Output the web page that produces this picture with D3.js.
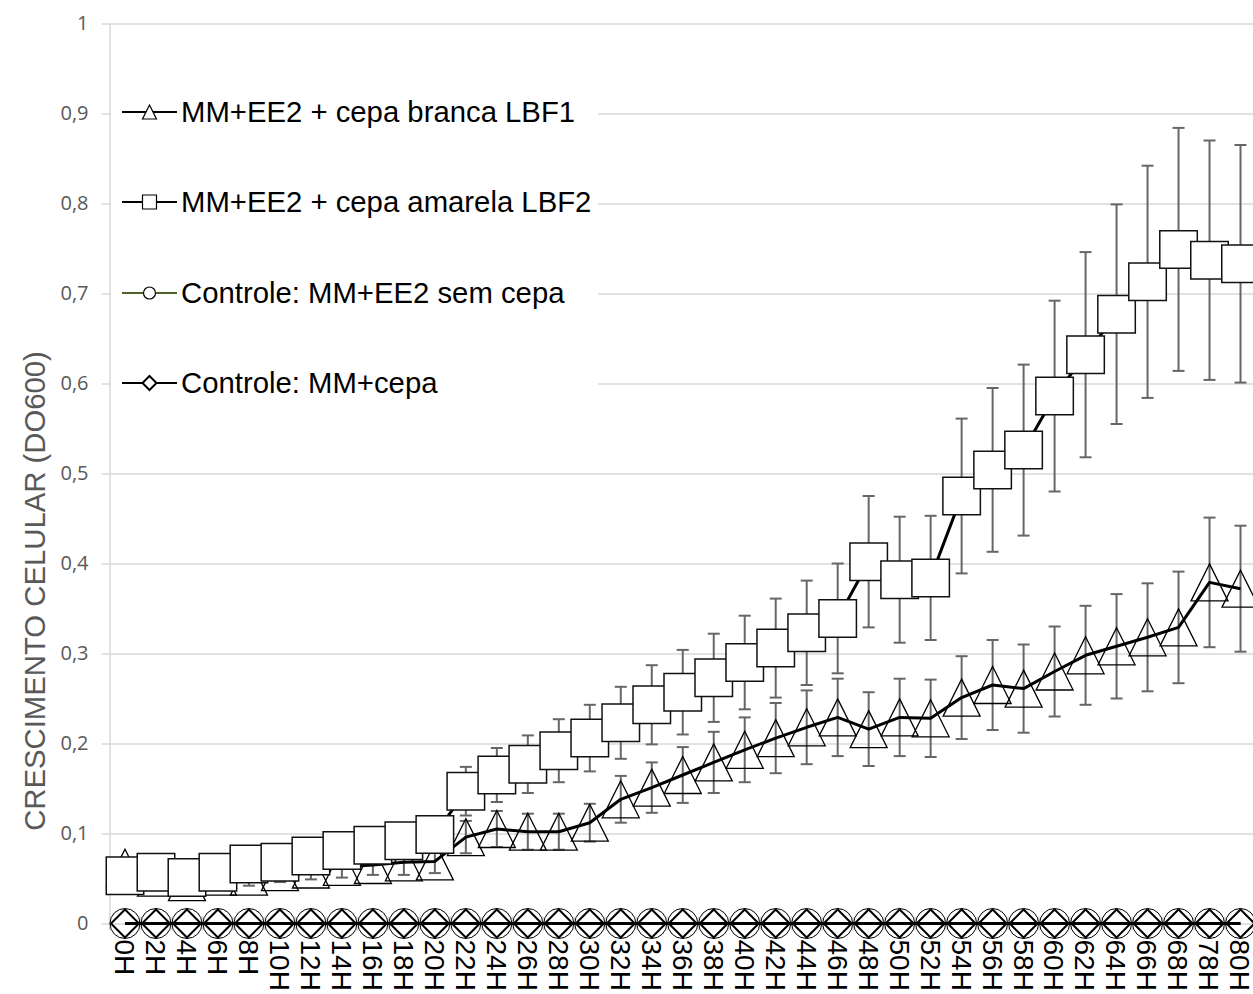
<!DOCTYPE html>
<html>
<head>
<meta charset="utf-8">
<script src="https://cdnjs.cloudflare.com/ajax/libs/d3/7.8.5/d3.min.js"></script>
<style>
  body { margin: 0; background: #fff; }
  svg { display: block; font-family: "Liberation Sans", Arial, sans-serif; }
</style>
</head>
<body>
<div id="chart"></div>
<script>
// categories (hours)
var hours = ["0H","2H","4H","6H","8H","10H","12H","14H","16H","18H","20H","22H","24H","26H","28H","30H",
             "32H","34H","36H","38H","40H","42H","44H","46H","48H","50H","52H","54H","56H","58H","60H",
             "62H","64H","66H","68H","78H","80H"];

// MM+EE2 + cepa branca LBF1 (triangles)
var branca    = [0.062,0.051,0.046,0.052,0.052,0.057,0.060,0.063,0.065,0.068,0.069,0.096,0.105,0.102,0.102,0.112,
                 0.138,0.151,0.165,0.179,0.193,0.206,0.218,0.229,0.216,0.229,0.228,0.251,0.265,0.261,0.280,
                 0.298,0.308,0.318,0.329,0.379,0.372];
var brancaErr = [0.004,0.004,0.004,0.004,0.010,0.011,0.011,0.012,0.011,0.014,0.013,0.018,0.020,0.020,0.020,0.021,
                 0.026,0.028,0.031,0.034,0.036,0.039,0.041,0.043,0.041,0.043,0.043,0.046,0.050,0.049,0.050,
                 0.055,0.058,0.060,0.062,0.072,0.070];

// MM+EE2 + cepa amarela LBF2 (squares)
var amarela    = [0.053,0.057,0.051,0.057,0.066,0.068,0.075,0.081,0.087,0.092,0.099,0.147,0.165,0.177,0.192,0.206,
                  0.223,0.243,0.257,0.273,0.290,0.306,0.323,0.339,0.402,0.382,0.384,0.475,0.504,0.526,0.586,
                  0.632,0.677,0.713,0.749,0.737,0.733];
var amarelaErr = [0.003,0.003,0.003,0.003,0.004,0.005,0.006,0.007,0.008,0.010,0.012,0.027,0.030,0.032,0.035,0.037,
                  0.040,0.044,0.047,0.049,0.052,0.055,0.058,0.061,0.073,0.070,0.069,0.086,0.091,0.095,0.106,
                  0.114,0.122,0.129,0.135,0.133,0.132];

// controls (all zero)
var semCepa = [0,0,0,0,0,0,0,0,0,0,0,0,0,0,0,0,0,0,0,0,0,0,0,0,0,0,0,0,0,0,0,0,0,0,0,0,0];
var mmCepa  = [0,0,0,0,0,0,0,0,0,0,0,0,0,0,0,0,0,0,0,0,0,0,0,0,0,0,0,0,0,0,0,0,0,0,0,0,0];

var yTicks      = [0,0.1,0.2,0.3,0.4,0.5,0.6,0.7,0.8,0.9,1];
var yTickLabels = ["0","0,1","0,2","0,3","0,4","0,5","0,6","0,7","0,8","0,9","1"];
var legendLabels = ["MM+EE2 + cepa branca LBF1","MM+EE2 + cepa amarela LBF2",
                    "Controle: MM+EE2 sem cepa","Controle: MM+cepa"];
var yTitle = "CRESCIMENTO CELULAR (DO600)";

var W = 1253, H = 994;
var svg = d3.select("#chart").append("svg").attr("width", W).attr("height", H);

var x = d3.scaleBand().domain(hours).range([109.5, 1256]);
var y = d3.scaleLinear().domain([0, 1]).range([923.5, 23.5]);
var cx = function(h) { return x(h) + x.bandwidth() / 2; };

// marker shapes, centred, s = bounding box size
function marker(type, s) {
  var h = s / 2;
  if (type == "triangle") return "M0," + (-h) + "L" + h + "," + h + "L" + (-h) + "," + h + "Z";
  if (type == "square") return "M" + (-h) + "," + (-h) + "H" + h + "V" + h + "H" + (-h) + "Z";
  if (type == "diamond") return "M0," + (-h) + "L" + h + ",0L0," + h + "L" + (-h) + ",0Z";
  return "M" + h + ",0A" + h + "," + h + " 0 1,1 " + (-h) + ",0A" + h + "," + h + " 0 1,1 " + h + ",0Z";
}

// y axis + gridlines
var gy = svg.append("g").attr("transform", "translate(109.5,0)")
  .call(d3.axisLeft(y).tickValues(yTicks).tickFormat(function(d, i) { return yTickLabels[i]; })
        .tickSize(0).tickPadding(21));
gy.select(".domain").attr("stroke", "#d9d9d9").attr("stroke-width", 1.5);
gy.selectAll(".tick line").attr("x1", -8).attr("x2", 1160).attr("stroke", "#d9d9d9").attr("stroke-width", 1.5);
gy.selectAll(".tick text").attr("fill", "#595959")
  .attr("font-family", "'Open Sans', sans-serif").attr("font-size", 20);

// category tick marks
svg.append("g").selectAll("line").data(hours).enter().append("line")
  .attr("x1", function(d) { return x(d); }).attr("x2", function(d) { return x(d); })
  .attr("y1", y(0) - 7).attr("y2", y(0) + 7)
  .attr("stroke", "#d9d9d9").attr("stroke-width", 1.5);

// x labels
var gx = svg.append("g").attr("transform", "translate(0," + y(0) + ")")
  .call(d3.axisBottom(x).tickSize(0));
gx.select(".domain").remove();
gx.selectAll(".tick text")
  .attr("transform", "rotate(90)").attr("x", 16).attr("y", 0).attr("dy", "0.36em")
  .style("text-anchor", "start").attr("font-size", 28)
  .attr("font-family", "'Liberation Sans', Arial, sans-serif").attr("fill", "#000");

// y title
svg.append("text").attr("transform", "translate(35,591) rotate(-90)")
  .attr("text-anchor", "middle").attr("dy", "0.35em")
  .style("font-size", "29.3px").attr("fill", "#595959").text(yTitle);

var line = d3.line().x(function(d) { return cx(d.h); }).y(function(d) { return y(d.v); });
function pts(vals) { return hours.map(function(h, i) { return { h: h, v: vals[i] }; }); }

function errorBars(vals, errs) {
  var g = svg.append("g").attr("stroke", "#666").attr("stroke-width", 2);
  hours.forEach(function(h, i) {
    var c = cx(h), lo = y(vals[i] - errs[i]), hi = y(vals[i] + errs[i]);
    g.append("line").attr("x1", c).attr("x2", c).attr("y1", lo).attr("y2", hi);
    g.append("line").attr("x1", c - 6).attr("x2", c + 6).attr("y1", lo).attr("y2", lo);
    g.append("line").attr("x1", c - 6).attr("x2", c + 6).attr("y1", hi).attr("y2", hi);
  });
}

function series(vals, color, shape, size, fill, stroke, sw) {
  svg.append("path").datum(pts(vals)).attr("d", line)
    .attr("fill", "none").attr("stroke", color).attr("stroke-width", 3).attr("stroke-linejoin", "round");
  svg.append("g").selectAll("path").data(pts(vals)).enter().append("path")
    .attr("transform", function(d) { return "translate(" + cx(d.h) + "," + y(d.v) + ")"; })
    .attr("d", marker(shape, size))
    .attr("fill", fill).attr("stroke", stroke).attr("stroke-width", sw);
}

// LBF1
errorBars(branca, brancaErr);
series(branca, "#000", "triangle", 37, "none", "#000", 1.3);
// LBF2
errorBars(amarela, amarelaErr);
series(amarela, "#000", "square", 37.5, "#fff", "#111", 1.5);
// controls
series(semCepa, "#4f6228", "circle", 30, "none", "#000", 1);
series(mmCepa, "#000", "diamond", 28, "none", "#000", 2);

// legend
var lg = svg.append("g");
lg.append("rect").attr("x", 111).attr("y", 80).attr("width", 487).attr("height", 330).attr("fill", "#fff");
var legendY = [112, 202, 293, 383];
var legendShape = ["triangle", "square", "circle", "diamond"];
var legendSize = [14, 14, 12, 14];
var legendColor = ["#000", "#000", "#4f6228", "#000"];
legendLabels.forEach(function(t, i) {
  var e = lg.append("g").attr("transform", "translate(0," + legendY[i] + ")");
  e.append("line").attr("x1", 122).attr("x2", 177).attr("y1", 0).attr("y2", 0)
    .attr("stroke", legendColor[i]).attr("stroke-width", 2);
  e.append("path").attr("transform", "translate(149.5,0)").attr("d", marker(legendShape[i], legendSize[i]))
    .attr("fill", "#fff").attr("stroke", "#000").attr("stroke-width", i == 3 ? 2 : 1.2);
  e.append("text").attr("x", 181).attr("dy", "0.35em").style("font-size", "29.3px").attr("fill", "#000").text(t);
});
</script>
</body>
</html>
